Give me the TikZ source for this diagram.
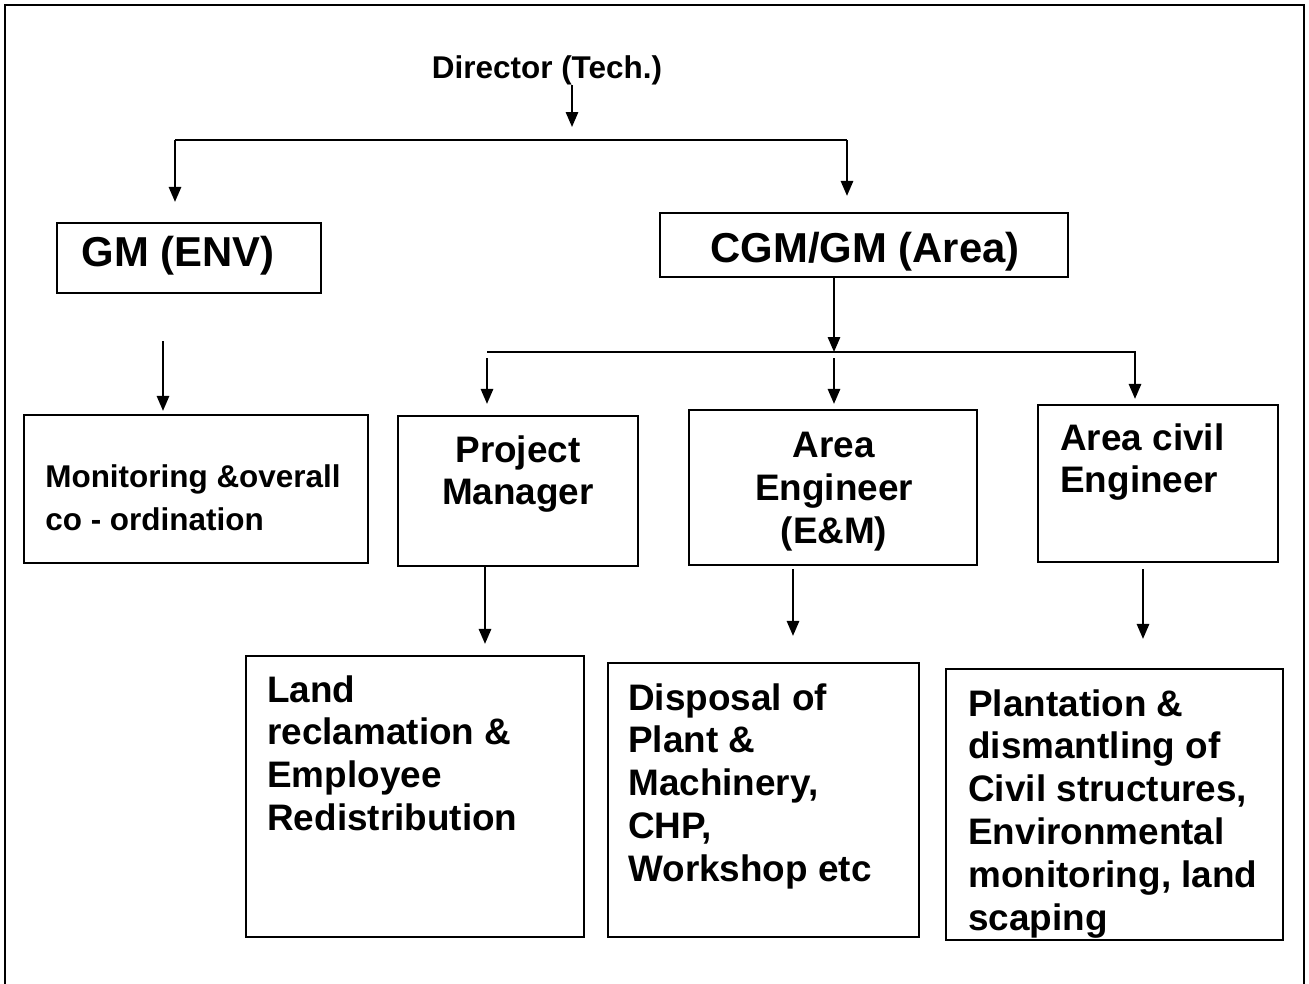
\documentclass[tikz,border=0pt]{standalone}
\usepackage{fontspec}
\setmainfont{Liberation Sans}
\usetikzlibrary{arrows.meta,calc}

\tikzset{
  box/.style={draw, line width=1.3pt, inner sep=0pt},
  txt/.style={inner sep=0pt, font=\bfseries\fontsize{21}{24.4}\selectfont},
  small/.style={inner sep=0pt, font=\bfseries\fontsize{17.9}{24.4}\selectfont},
  big/.style={inner sep=0pt, font=\bfseries\fontsize{23.8}{28}\selectfont},
  conn/.style={line width=1.1pt},
  arr/.style={line width=1.1pt, -{Triangle[length=8.5pt,width=7pt]}},
}

\begin{document}
\begin{tikzpicture}[x=0.02cm, y=-0.02cm]
\useasboundingbox (0,0) rectangle (1309,984);
%frame
\draw[line width=1.4pt] (5,984) -- (5,5) -- (1304,5) -- (1304,984);

%top level
\node[small] (dir) at (547,70) {Director (Tech.)};
\coordinate (jl) at (175,140);
\coordinate (jm) at (572,140);
\coordinate (jr) at (847,140);

\node[box, minimum width=5.28cm, minimum height=1.40cm] (gm) at (189,258) {};
\node[big] (gmtxt) at (178,256) {GM (ENV)};
\node[box, minimum width=8.16cm, minimum height=1.28cm] (cgm) at (864,245) {};
\node[big] (cgmtxt) at (865,252) {CGM/GM (Area)};

%second level
\node[box, minimum width=6.88cm, minimum height=2.96cm] (mon) at (196,489) {};
\node[small, anchor=north west, align=left] (montxt) at (45,464) {Monitoring \&overall\\co - ordination};
\node[box, minimum width=4.80cm, minimum height=3.00cm] (pm) at (518,491) {};
\node[txt, anchor=north, align=center] (pmtxt) at (518,435) {Project\\Manager};
\node[box, minimum width=5.76cm, minimum height=3.10cm] (ae) at (833,487.5) {};
\node[txt, anchor=north, align=center] (aetxt) at (834,432) {Area\\Engineer\\(E\&M)};
\node[box, minimum width=4.80cm, minimum height=3.14cm] (ace) at (1158,483.5) {};
\node[txt, anchor=north west, align=left] (acetxt) at (1060,423) {Area civil\\Engineer};

%third level
\node[box, minimum width=6.76cm, minimum height=5.62cm] (land) at (415,796.5) {};
\node[txt, anchor=north west, align=left] (landtxt) at (267,675) {Land\\reclamation \&\\Employee\\Redistribution};
\node[box, minimum width=6.22cm, minimum height=5.48cm] (disp) at (763.5,800) {};
\node[txt, anchor=north west, align=left] (disptxt) at (628,683) {Disposal of\\Plant \&\\Machinery,\\CHP,\\Workshop etc};
\node[box, minimum width=6.74cm, minimum height=5.42cm] (plant) at (1114.5,804.5) {};
\node[txt, anchor=north west, align=left] (planttxt) at (968,689) {Plantation \&\\dismantling of\\Civil structures,\\Environmental\\monitoring, land\\scaping};

%connectors
\draw[arr] (dir.south -| jm) -- ($(jm)+(0,-13)$);
\draw[conn] (jl) -- (jr);
\draw[arr] (jl) -- ($(jl |- gm.north)+(0,-20)$);
\draw[arr] (jr) -- ($(jr |- cgm.north)+(0,-16)$);
\draw[arr] ($(gm.south)+(-26,47)$) -- ($(mon.north)+(-33,-3)$);

\coordinate (bl) at (487,352);
\coordinate (bm) at (834,352);
\coordinate (br) at (1135,352);
\draw[arr] (cgm.south -| bm) -- (bm);
\draw[arr] (bl) -- (br) -- ($(br |- ace.north)+(0,-5)$);
\draw[arr] ($(bl)+(0,6)$) -- ($(bl |- pm.north)+(0,-11)$);
\draw[arr] ($(bm)+(0,6)$) -- ($(bm |- ae.north)+(0,-5)$);

\draw[arr] ($(pm.south)+(-33,0)$) -- ($(land.north)+(70,-11)$);
\draw[arr] ($(ae.south)+(-40,3)$) -- ($(disp.north)+(29.5,-26)$);
\draw[arr] ($(ace.south)+(-15,6)$) -- ($(plant.north)+(28.5,-29)$);
\end{tikzpicture}
\end{document}
